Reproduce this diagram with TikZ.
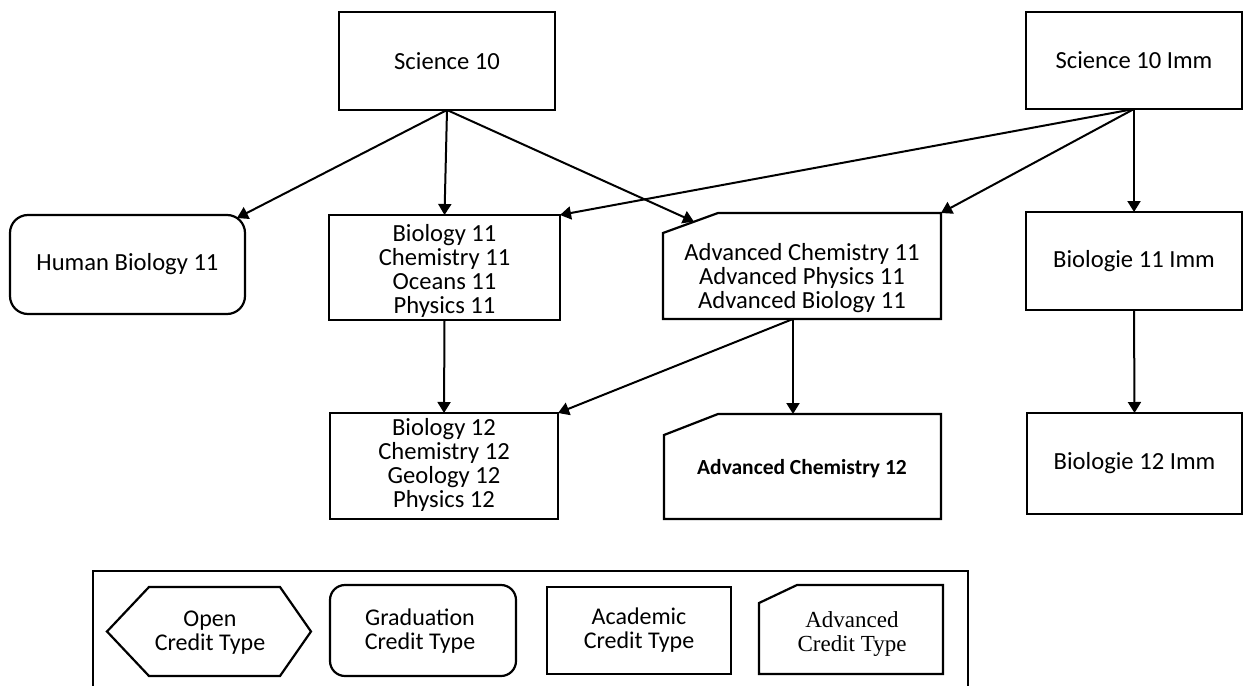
\documentclass[tikz,border=0pt]{standalone}
\usepackage{fontspec}
\setmainfont{Carlito}
\newfontfamily\legserif{Liberation Serif}
\usetikzlibrary{arrows.meta,calc}
\tikzset{
  box/.style={draw, line width=2.2pt, inner sep=0pt, outer sep=0pt, align=center,
              font=\fontsize{24.6}{24}\selectfont},
  rbox/.style={box, rounded corners=18pt},
  plain/.style={inner sep=0pt, outer sep=0pt},
  txt/.style={align=center, inner sep=0pt, font=\fontsize{24.6}{24}\selectfont},
  legtxt/.style={align=center, inner sep=0pt, font=\fontsize{24}{24}\selectfont},
  legsertxt/.style={align=center, inner sep=0pt, font=\legserif\fontsize{23}{24}\selectfont},
  outline/.style={line width=2.2pt, line join=miter},
  arr/.style={line width=2pt, -{Triangle[length=11pt,width=13pt]}},
}
\newcommand\advoutline[3]{%
  \draw[outline] ($(#1.north west)+(0,#3)$) -- ($(#1.north west)+(#2,0)$) -- (#1.north east)
    -- (#1.south east) -- (#1.south west) -- cycle;}
\begin{document}
\begin{tikzpicture}[x=1pt,y=-1pt]
\useasboundingbox (0,0) rectangle (1244,685);

% top row
\node[box, minimum width=216pt, minimum height=98pt] (sci10) at (447,61) {Science 10};
\node[box, minimum width=216pt, minimum height=97pt] (sci10imm) at (1134,60.5) {Science 10 Imm};

% second row
\node[rbox, minimum width=235pt, minimum height=99pt] (hb) at (127.5,264.5) {Human Biology 11};
\node[box, minimum width=231pt, minimum height=105pt] (bio11) at (444.5,267.5) {};
\node[txt] (bio11t) at (444.5,271) {Biology 11\\Chemistry 11\\Oceans 11\\Physics 11};
\node[plain, minimum width=278pt, minimum height=106pt] (adv11) at (802,266) {};
\advoutline{adv11}{55}{20}
\node[txt] (adv11t) at (802,278) {Advanced Chemistry 11\\Advanced Physics 11\\Advanced Biology 11};
\node[box, minimum width=216pt, minimum height=98pt] (bio11imm) at (1134,261) {Biologie 11 Imm};

% third row
\node[box, minimum width=228pt, minimum height=106pt] (bio12) at (444,466) {};
\node[txt] (bio12t) at (444,465) {Biology 12\\Chemistry 12\\Geology 12\\Physics 12};
\node[plain, minimum width=277pt, minimum height=105pt] (adv12) at (802.5,466.5) {};
\advoutline{adv12}{54}{21}
\node[txt, font=\fontsize{21.5}{24}\selectfont\bfseries] (adv12t) at (802,469) {Advanced Chemistry 12};
\node[box, minimum width=215pt, minimum height=101pt] (bio12imm) at (1134.5,463.5) {Biologie 12 Imm};

% connectors
\coordinate (adv11c) at ($(adv11.north west)+(31,8.7)$);
\coordinate (adv11b) at ($(adv11.south)+(-9,0)$);
\draw[arr] (sci10.south) -- ($(hb.north east)+(-8,3)$);
\draw[arr] (sci10.south) -- (bio11.north);
\draw[arr] (sci10.south) -- (adv11c);
\draw[arr] (sci10imm.south) -- (bio11.north east);
\draw[arr] (sci10imm.south) -- (adv11.north east);
\draw[arr] (sci10imm.south) -- (bio11imm.north);
\draw[arr] (bio11.south) -- (bio12.north);
\draw[arr] (adv11b) -- (bio12.north east);
\draw[arr] (adv11b) -- (adv11b |- adv12.north);
\draw[arr] (bio11imm.south) -- (bio12imm.north);

% legend
\draw[outline] (93,687) -- (93,571) -- (968,571) -- (968,687);
\node[plain, minimum width=204pt, minimum height=89pt] (open) at (209,631.5) {};
\draw[outline] (open.west) -- ($(open.north west)+(42,0)$) -- ($(open.north east)+(-31,0)$)
  -- (open.east) -- ($(open.south east)+(-31,0)$) -- ($(open.south west)+(42,0)$) -- cycle;
\node[legtxt] (opent) at (210,633) {Open\\Credit Type};
\node[box, rounded corners=15pt, minimum width=186pt, minimum height=91pt] (grad) at (423,630.5) {};
\node[legtxt] (gradt) at (420,631) {Graduation\\Credit Type};
\node[box, minimum width=184pt, minimum height=87pt] (acad) at (639,630.5) {};
\node[legtxt] (acadt) at (639,630) {Academic\\Credit Type};
\node[plain, minimum width=184pt, minimum height=89pt] (legadv) at (851,629.5) {};
\advoutline{legadv}{38}{18}
\node[legsertxt] (legadvt) at (852,634) {Advanced\\Credit Type};
\end{tikzpicture}
\end{document}
